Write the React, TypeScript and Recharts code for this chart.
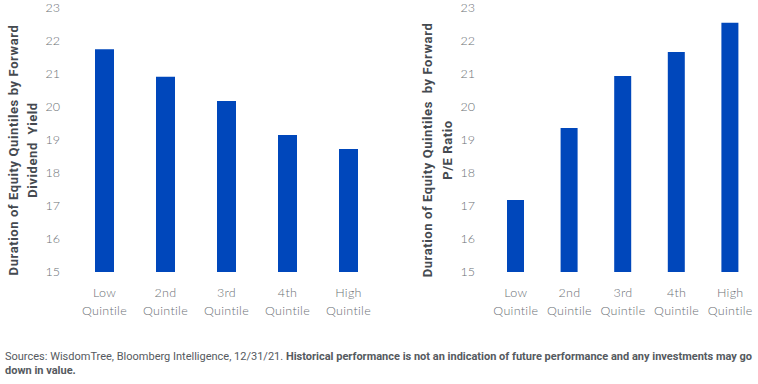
import React from "react";
import { BarChart, Bar, XAxis, YAxis } from "recharts";

const categories = ["Low Quintile", "2nd Quintile", "3rd Quintile", "4th Quintile", "High Quintile"];
const dividendYieldDuration = [21.75, 20.92, 20.18, 19.15, 18.73];
const peRatioDuration = [17.18, 19.36, 20.94, 21.67, 22.55];
const yTicks = [15, 16, 17, 18, 19, 20, 21, 22, 23];
const leftTitle = ["Duration of Equity Quintiles by Forward", "Dividend  Yield"];
const rightTitle = ["Duration of Equity Quintiles  by Forward", "P/E Ratio"];

const leftData = categories.map((c, i) => ({ name: c, value: dividendYieldDuration[i] }));
const rightData = categories.map((c, i) => ({ name: c, value: peRatioDuration[i] }));

const BAR = "#0047BB";
const TICK = "#6b6f75";
const FONT = "Lato, 'Noto Sans', sans-serif";

const XTick = (props: any) => {
  const { x, y, payload } = props;
  const parts = String(payload.value).split(" ");
  return (
    <g transform={`translate(${x},${y})`}>
      <text textAnchor="middle" fill={TICK} fontSize={12.5} fontFamily={FONT} fontWeight={300} letterSpacing={0.3}>
        <tspan x={0} dy={17}>{parts[0]}</tspan>
        <tspan x={0} dy={18}>{parts[1]}</tspan>
      </text>
    </g>
  );
};

const makeTitle = (lines: string[], x1: number, x2: number, cy: number) => () => (
  <g>
    <text transform={`translate(${x1},${cy}) rotate(-90)`} textAnchor="middle" fill="#454a50" fontSize={13} letterSpacing={0.6} fontWeight={700} fontFamily="Roboto, sans-serif" dominantBaseline="central" style={{ whiteSpace: "pre" }}>
      {lines[0]}
    </text>
    <text transform={`translate(${x2},${cy}) rotate(-90)`} textAnchor="middle" fill="#454a50" fontSize={13} letterSpacing={0.6} fontWeight={700} fontFamily="Roboto, sans-serif" dominantBaseline="central" style={{ whiteSpace: "pre" }}>
      {lines[1]}
    </text>
  </g>
);

const Panel = ({ data, width, yWidth, barSize, title, tx1, tx2 }: any) => (
  <BarChart width={width} height={330} data={data} margin={{ top: 8, right: 1, bottom: 0, left: 0 }}>
    <XAxis dataKey="name" axisLine={false} tickLine={false} height={58} tick={<XTick />} interval={0} />
    <YAxis
      domain={[15, 23]}
      ticks={yTicks}
      width={yWidth}
      axisLine={false}
      tickLine={false}
      tickSize={0}
      tickMargin={14}
      tick={{ fill: TICK, fontSize: 12.5, fontFamily: FONT, fontWeight: 300 }}
      label={{ content: makeTitle(title, tx1, tx2, 150) as any }}
    />
    <Bar dataKey="value" fill={BAR} barSize={barSize} isAnimationActive={false} />
  </BarChart>
);

export default function App() {
  return (
    <div style={{ position: "absolute", left: 0, top: 0, width: 758, height: 384, background: "#fff" }}>
      <div style={{ position: "absolute", left: 0, top: 0 }}>
        <Panel data={leftData} width={380} yWidth={74} barSize={19} title={leftTitle} tx1={13} tx2={32} />
      </div>
      <div style={{ position: "absolute", left: 380, top: 0 }}>
        <Panel data={rightData} width={378} yWidth={109} barSize={17} title={rightTitle} tx1={47} tx2={67} />
      </div>
      <div style={{ position: "absolute", left: 5, top: 350, width: 753, fontFamily: "Roboto, sans-serif", fontSize: 11, lineHeight: "14px", color: "#555a60", whiteSpace: "nowrap" }}>
        Sources: WisdomTree, Bloomberg Intelligence, 12/31/21.{" "}
        <b>Historical performance is not an indication of future performance and any investments may go</b>
        <br />
        <b>down in value.</b>
      </div>
    </div>
  );
}
